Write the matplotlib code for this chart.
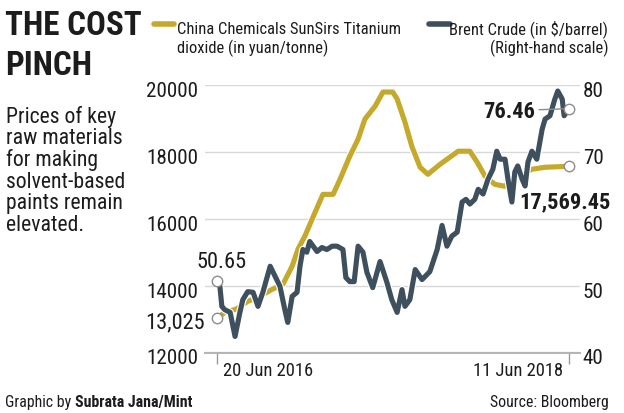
import matplotlib
matplotlib.use('Agg')
import matplotlib.pyplot as plt
import matplotlib.patheffects as pe
import matplotlib.font_manager as fm
from matplotlib.transforms import ScaledTranslation
from matplotlib.lines import Line2D
import pandas as pd

# ---------------- data ----------------
tio2_dates = ["2016-06-20", "2016-07-06", "2016-07-30", "2016-08-22", "2016-09-16",
              "2016-10-11", "2016-11-02", "2016-11-21", "2016-12-03", "2016-12-17",
              "2017-01-07", "2017-01-23", "2017-02-13", "2017-02-27", "2017-03-19",
              "2017-04-05", "2017-04-19", "2017-05-10", "2017-05-26", "2017-06-15",
              "2017-06-24", "2017-07-10", "2017-07-24", "2017-08-10", "2017-08-26",
              "2017-09-20", "2017-10-10", "2017-10-27", "2017-11-20", "2017-12-05",
              "2017-12-21", "2018-01-10", "2018-01-31", "2018-02-14", "2018-03-07",
              "2018-03-27", "2018-04-23", "2018-06-11"]
tio2_values = [13025, 13200, 13300, 13530, 13680,
               13890, 14040, 14580, 15090, 15480,
               16195, 16730, 16730, 17180, 17870,
               18380, 18980, 19370, 19790, 19790,
               19580, 18890, 18170, 17540, 17330,
               17630, 17840, 18020, 18020, 17690,
               17270, 17030, 16970, 17180, 17330,
               17480, 17540, 17569.45]

brent_dates = ["2016-06-20", "2016-06-26", "2016-06-30", "2016-07-06", "2016-07-17",
               "2016-07-27", "2016-08-06", "2016-08-12", "2016-08-22", "2016-09-02",
               "2016-09-12", "2016-09-22", "2016-10-07", "2016-10-17", "2016-10-27",
               "2016-11-06", "2016-11-12", "2016-11-21", "2016-12-01", "2016-12-07",
               "2016-12-13", "2016-12-21", "2016-12-27", "2017-01-03", "2017-01-11",
               "2017-01-21", "2017-01-31", "2017-02-11", "2017-02-21", "2017-03-05",
               "2017-03-11", "2017-03-19", "2017-03-28", "2017-04-05", "2017-04-15",
               "2017-04-23", "2017-05-05", "2017-05-20", "2017-06-03", "2017-06-13",
               "2017-06-24", "2017-07-04", "2017-07-10", "2017-07-20", "2017-07-31",
               "2017-08-14", "2017-08-30", "2017-09-14", "2017-09-24", "2017-10-04",
               "2017-10-14", "2017-10-25", "2017-11-04", "2017-11-12", "2017-11-20",
               "2017-11-30", "2017-12-07", "2017-12-17", "2017-12-27", "2018-01-06",
               "2018-01-14", "2018-01-21", "2018-01-31", "2018-02-06", "2018-02-14",
               "2018-02-20", "2018-02-26", "2018-03-07", "2018-03-13", "2018-03-19",
               "2018-03-27", "2018-04-06", "2018-04-17", "2018-04-23", "2018-05-03",
               "2018-05-13", "2018-05-19", "2018-05-28", "2018-06-01", "2018-06-11"]
brent_values = [50.65, 49.9, 46.9, 46.4, 46.0,
                42.4, 46.0, 47.9, 49.1, 49.0,
                46.9, 49.0, 52.9, 51.4, 49.9,
                46.4, 44.5, 48.4, 49.0, 52.9,
                55.4, 55.0, 56.6, 55.9, 55.1,
                55.7, 55.4, 55.9, 55.9, 55.4,
                51.2, 50.6, 50.6, 55.9, 55.0,
                52.0, 49.7, 53.6, 50.5, 47.9,
                46.0, 49.4, 46.9, 47.9, 52.4,
                50.9, 52.1, 55.4, 59.0, 55.9,
                57.4, 58.0, 62.5, 62.9, 62.2,
                62.9, 64.4, 63.7, 65.9, 67.4,
                70.1, 68.9, 68.9, 65.9, 62.5,
                67.0, 67.9, 65.9, 64.9, 68.5,
                70.1, 68.9, 73.4, 74.9, 75.4,
                77.9, 79.1, 77.9, 75.4, 76.46]

left_ticks = [12000, 14000, 16000, 18000, 20000]
right_ticks = [40, 50, 60, 70, 80]
x_tick_dates = ["2016-06-20", "2018-06-11"]
x_tick_labels = ["20 Jun 2016", "11 Jun 2018"]

title_lines = ["THE COST", "PINCH"]
subtitle_lines = ["Prices of key", "raw materials", "for making",
                  "solvent-based", "paints remain", "elevated."]
legend_tio2 = ["China Chemicals SunSirs Titanium", "dioxide (in yuan/tonne)"]
legend_brent = ["Brent Crude (in $/barrel)", "(Right-hand scale)"]

# ---------------- style ----------------
names = {f.name for f in fm.fontManager.ttflist}
if 'Liberation Sans Narrow' in names:
    FAM, K = 'Liberation Sans Narrow', 1.0
elif 'Roboto Condensed' in names:
    FAM, K = 'Roboto Condensed', 0.95
else:
    FAM, K = 'Liberation Sans', 0.82
plt.rcParams['font.family'] = [FAM, 'DejaVu Sans']

GOLD = '#c5a92c'
DARK = '#3e505e'
TXT = '#1c1c1c'
GRID = '#d8d8d8'

W, H = 624, 414
fig = plt.figure(figsize=(W / 100, H / 100), dpi=100)
fig.patch.set_facecolor('white')


def fx(x):
    return x / W


def fy(y):
    return 1 - y / H


tio2_x = pd.to_datetime(tio2_dates)
brent_x = pd.to_datetime(brent_dates)
xt = pd.to_datetime(x_tick_dates)

ax = fig.add_axes([fx(205), fy(353.5), (580 - 205) / W, (353.5 - 86) / H])
ax.set_xlim(xt[0] - pd.Timedelta(days=24.5), xt[1] + pd.Timedelta(days=22.5))
ax.set_ylim(left_ticks[0], left_ticks[-1])
ax2 = ax.twinx()
ax2.set_ylim(right_ticks[0], right_ticks[-1])

for a in (ax, ax2):
    for s in a.spines.values():
        s.set_visible(False)
ax.spines['bottom'].set_visible(True)
ax.spines['bottom'].set_color('#b3b3b3')
ax.spines['bottom'].set_linewidth(1.4)

ax.set_yticks(left_ticks)
ax.set_yticklabels([str(v) for v in left_ticks])
ax.yaxis.grid(True, color=GRID, lw=1.0)
ax.set_axisbelow(True)
ax.tick_params(axis='y', length=0, pad=5, labelsize=16 * K, labelcolor=TXT)
ax2.set_yticks(right_ticks)
ax2.set_yticklabels([str(v) for v in right_ticks])
ax2.tick_params(axis='y', length=0, pad=2, labelsize=16 * K, labelcolor=TXT)
off = ScaledTranslation(0, -3.5 / 100, fig.dpi_scale_trans)
for lab in ax.get_yticklabels() + ax2.get_yticklabels():
    lab.set_transform(lab.get_transform() + off)

ax.set_xticks(xt)
ax.set_xticklabels([])
ax.tick_params(axis='x', direction='out', length=8, width=1, color='#9a9a9a')
for d, lab, ha, dx in zip(xt, x_tick_labels, ['left', 'right'], [4.5, -4.5]):
    ax.annotate(lab, xy=(d, 0), xycoords=('data', 'axes fraction'),
                xytext=(dx, -12.5), textcoords='offset points',
                ha=ha, va='center', fontsize=14 * K, color=TXT)

halo = lambda: [pe.Stroke(linewidth=5.4, foreground='white'), pe.Normal()]
ax.plot(tio2_x, tio2_values, color=GOLD, lw=3.7, solid_joinstyle='round',
        solid_capstyle='round', path_effects=halo(), zorder=3)
ax2.plot(brent_x, brent_values, color=DARK, lw=3.7, solid_joinstyle='round',
         solid_capstyle='round', path_effects=halo(), zorder=3)

mk = dict(marker='o', ms=7.5, mfc='white', mec='#8c8c8c', mew=1.0, ls='none',
          zorder=6, clip_on=False)
ax.plot([tio2_x[0], tio2_x[-1]], [tio2_values[0], tio2_values[-1]], **mk)
ax2.plot([brent_x[0], brent_x[-1]], [brent_values[0], brent_values[-1]], **mk)

# value annotations
ax2.annotate(f"{brent_values[0]:.2f}", xy=(brent_x[0], brent_values[0]),
             xytext=(3.5, 14.5), textcoords='offset points', ha='center', va='center',
             fontsize=17 * K, color=TXT)
ax.annotate(f"{tio2_values[0]:,}", xy=(tio2_x[0], tio2_values[0]),
            xytext=(-8.5, -3), textcoords='offset points', ha='right', va='center',
            fontsize=17 * K, color=TXT)
ax2.annotate(f"{brent_values[-1]:.2f}", xy=(brent_x[-1], brent_values[-1]),
             xytext=(-24.5, -1.5), textcoords='offset points', ha='right', va='center',
             fontsize=17 * K, color=TXT, fontweight='bold',
             arrowprops=dict(arrowstyle='-', color='#8c8c8c', lw=1, shrinkA=1, shrinkB=4))
ax.annotate(f"{tio2_values[-1]:,.2f}", xy=(tio2_x[-1], tio2_values[-1]),
            xytext=(-35.5, -25), textcoords='offset points', ha='left', va='center',
            fontsize=17 * K, color=TXT, fontweight='bold', zorder=7)

# titles
fig.text(fx(5), fy(35), title_lines[0], fontsize=25 * K, fontweight='bold',
         color=TXT, va='baseline', ha='left')
fig.text(fx(5), fy(75), title_lines[1], fontsize=25 * K, fontweight='bold',
         color=TXT, va='baseline', ha='left')
for i, line in enumerate(subtitle_lines):
    fig.text(fx(6), fy(117 + i * 21.7), line, fontsize=16.5 * K, color=TXT,
             va='center', ha='left')

# legend
fig.add_artist(Line2D([fx(154), fx(174)], [fy(25), fy(25)], color=GOLD, lw=4,
                      solid_capstyle='round'))
fig.add_artist(Line2D([fx(429), fx(450)], [fy(25), fy(25)], color=DARK, lw=4,
                      solid_capstyle='round'))
fig.text(fx(177), fy(34), legend_tio2[0], fontsize=12.5 * K, color=TXT, va='baseline')
fig.text(fx(177), fy(53), legend_tio2[1], fontsize=12.5 * K, color=TXT, va='baseline')
fig.text(fx(608), fy(34), legend_brent[0], fontsize=12.5 * K, color=TXT, va='baseline',
         ha='right')
fig.text(fx(608), fy(53), legend_brent[1], fontsize=12.5 * K, color=TXT, va='baseline',
         ha='right')

# footer
t1 = fig.text(fx(5), fy(407), "Graphic by ", fontsize=12 * K, color=TXT, va='baseline')
r = fig.canvas.get_renderer()
bb = t1.get_window_extent(r)
fig.text(bb.x1 / fig.bbox.width, fy(407), "Subrata Jana/Mint", fontsize=12 * K,
         fontweight='bold', color=TXT, va='baseline')
fig.text(fx(609), fy(407), "Source: Bloomberg", fontsize=12 * K, color=TXT,
         va='baseline', ha='right')

fig.savefig('out.png', dpi=100, facecolor='white')
